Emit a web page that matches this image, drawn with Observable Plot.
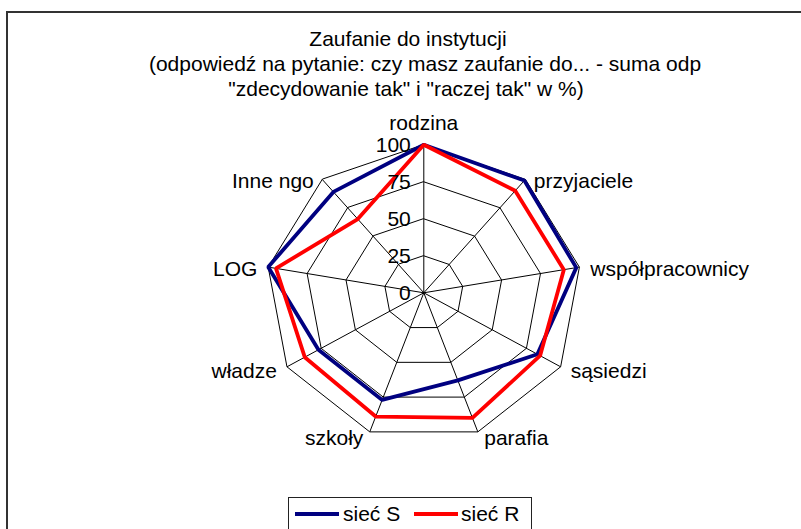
<!DOCTYPE html>
<html>
<head>
<meta charset="utf-8">
<script src="https://cdn.jsdelivr.net/npm/d3@7"></script>
<script src="https://cdn.jsdelivr.net/npm/@observablehq/plot@0.6"></script>
<style>
  html, body { margin: 0; padding: 0; background: #fff; }
  #wrap { position: relative; width: 801px; height: 529px; overflow: hidden; font-family: "Liberation Sans", Arial, sans-serif; color: #000; }
  #frame { position: absolute; left: 6px; top: 11px; width: 900px; height: 700px; border-left: 2px solid #333; border-top: 2px solid #333; }
  .tline { position: absolute; font-size: 21px; line-height: 25px; white-space: nowrap; transform: translateX(-50%); }
  #chart { position: absolute; left: 0; top: 0; }
  #legend { position: absolute; left: 288px; top: 497px; width: 242px; height: 60px; border: 1px solid #222; background: #fff; }
  .lg-line { position: absolute; height: 4px; }
  .lg-text { position: absolute; font-size: 21px; line-height: 25px; white-space: nowrap; }
</style>
</head>
<body>
<div id="wrap">
  <div id="frame"></div>
  <div class="tline" style="left:408px; top:26px;">Zaufanie do instytucji</div>
  <div class="tline" style="left:425px; top:51px;">(odpowiedź na pytanie: czy masz zaufanie do... - suma odp</div>
  <div class="tline" style="left:406px; top:76px;">"zdecydowanie tak" i "raczej tak" w %)</div>
  <div id="chart"></div>
  <div id="legend">
    <div class="lg-line" style="left:6px; top:14px; width:44px; background:#000080;"></div>
    <div class="lg-text" style="left:54px; top:3px;">sieć S</div>
    <div class="lg-line" style="left:125px; top:14px; width:44px; background:#ff0000;"></div>
    <div class="lg-text" style="left:172px; top:3px;">sieć R</div>
  </div>
</div>
<script>
const categories = ["rodzina", "przyjaciele", "współpracownicy", "sąsiedzi", "parafia", "szkoły", "władze", "LOG", "Inne ngo"];
const sietS = [100, 99, 98, 83, 63, 77, 77, 100, 89];
const sietR = [100, 90, 90, 85, 90, 89, 87, 95, 65];
const tickValues = [0, 25, 50, 75, 100];
const ringValues = [25, 50, 75, 100];
const seriesNames = ["sieć S", "sieć R"];
const seriesColors = ["#000080", "#ff0000"];

const n = categories.length;
const ang = i => i * 2 * Math.PI / n;
const pt = (i, r) => ({u: Math.sin(ang(i)) * r / 100, v: Math.cos(ang(i)) * r / 100});

const rings = ringValues.flatMap(r => categories.map((c, i) => ({ring: r, ...pt(i, r)})));
const spokes = categories.map((c, i) => ({cat: c, ...pt(i, 100)}));
const series = [sietS, sietR].flatMap((vals, s) => vals.map((v, i) => ({series: seriesNames[s], ...pt(i, v)})));

const cx = 423.3, cy = 292.3, rx = 158, ry = 148;

const labelMarks = categories.map((c, i) => {
  const s = Math.sin(ang(i)), co = Math.cos(ang(i));
  const p = pt(i, 100);
  if (Math.abs(s) < 0.1) {
    return Plot.text([{...p, t: c}], {x: "u", y: "v", text: "t", textAnchor: "middle", lineAnchor: "bottom", dy: -15});
  }
  const sign = s > 0 ? 1 : -1;
  return Plot.text([{...p, t: c}], {
    x: "u", y: "v", text: "t",
    textAnchor: s > 0 ? "start" : "end",
    lineAnchor: "middle",
    dx: sign * (4 + 7 * Math.abs(s)),
    dy: Math.max(0, -co) * 5 + 2
  });
});

const chart = Plot.plot({
  width: 801,
  height: 529,
  margin: 0,
  x: {domain: [-1, 1], range: [cx - rx, cx + rx], axis: null},
  y: {domain: [-1, 1], range: [cy + ry, cy - ry], axis: null},
  style: {fontFamily: '"Liberation Sans", Arial, sans-serif', fontSize: "21px", background: "transparent", overflow: "visible"},
  marks: [
    Plot.line(rings, {x: "u", y: "v", z: "ring", curve: "linear-closed", stroke: "#000", strokeWidth: 1}),
    Plot.link(spokes, {x1: 0, y1: 0, x2: "u", y2: "v", stroke: "#000", strokeWidth: 1}),
    Plot.line(series.filter(d => d.series === seriesNames[0]), {x: "u", y: "v", curve: "linear-closed", stroke: seriesColors[0], strokeWidth: 3.8, strokeLinejoin: "miter"}),
    Plot.line(series.filter(d => d.series === seriesNames[1]), {x: "u", y: "v", curve: "linear-closed", stroke: seriesColors[1], strokeWidth: 3.8, strokeLinejoin: "miter"}),
    Plot.text(tickValues, {x: 0, y: d => d / 100, text: d => String(d), textAnchor: "end", lineAnchor: "middle", dx: -13, fill: "#000"}),
    ...labelMarks
  ]
});
document.getElementById("chart").appendChild(chart);
</script>
</body>
</html>
